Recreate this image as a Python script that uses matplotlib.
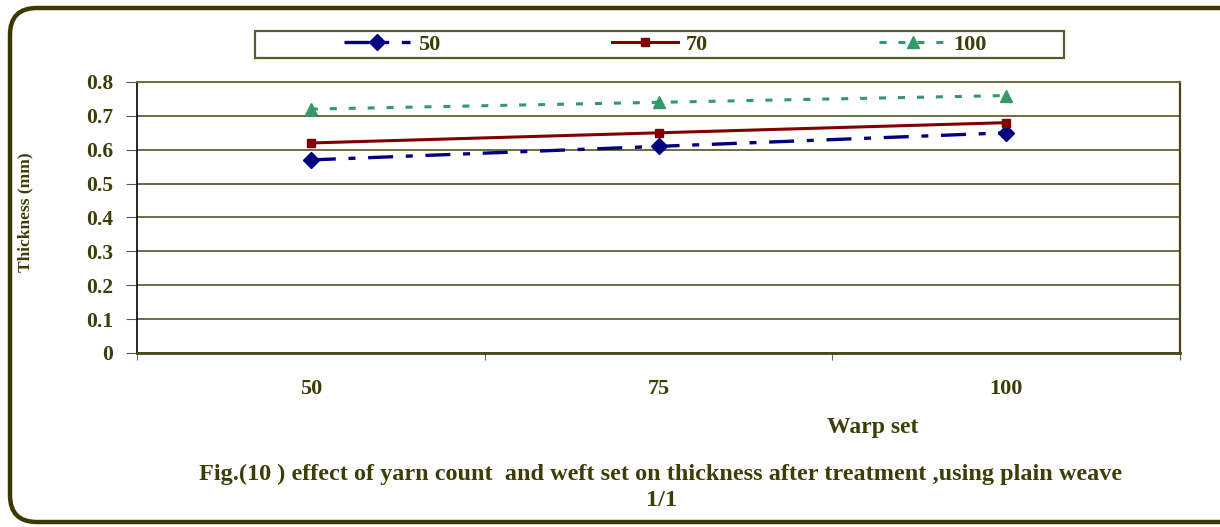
import matplotlib.pyplot as plt
from matplotlib.patches import FancyBboxPatch, Rectangle
from matplotlib.lines import Line2D

# warp set categories on the x axis
warp_set = ['50', '75', '100']

# thickness (mm) for each yarn count
thick_50 = [0.57, 0.61, 0.65]
thick_70 = [0.62, 0.65, 0.68]
thick_100 = [0.72, 0.74, 0.76]

series_labels = ['50', '70', '100']
y_ticks = [0, 0.1, 0.2, 0.3, 0.4, 0.5, 0.6, 0.7, 0.8]

olive = '#3d3d08'
grid_col = '#6b6b45'
serif = 'Liberation Serif'

W, H = 1220, 527
fig = plt.figure(figsize=(W / 100, H / 100), dpi=100)
fig.patch.set_facecolor('white')

# rounded outer frame
frame = FancyBboxPatch((10 / W, 1 - 522 / H), 1.05, 514 / H,
                       boxstyle='round,pad=0,rounding_size=0.022',
                       transform=fig.transFigure, fill=False,
                       edgecolor='#3a3a00', linewidth=3.2,
                       mutation_aspect=W / H)
fig.patches.append(frame)

ax = fig.add_axes([137 / W, 1 - 353 / H, 1043 / W, 271 / H])

s50 = dict(color='#000080', linewidth=2.4, marker='D', markersize=8,
           dashes=(7.5, 3.8, 2.1, 3.8))
s70 = dict(color='#800000', linewidth=2.2, marker='s', markersize=6.3)
s100 = dict(color='#339966', linewidth=2.2, marker='^', markersize=8,
            dashes=(2.3, 3.9))

xs = [i + 0.5 for i in range(len(warp_set))]
ax.plot(xs, thick_50, **s50)
ax.plot(xs, thick_70, **s70)
ax.plot(xs, thick_100, **s100)

ax.set_xlim(0, 3)
ax.set_ylim(0, 0.8)
ax.set_yticks(y_ticks)
ax.set_yticklabels([f'{v:g}' for v in y_ticks], fontfamily=serif,
                   fontweight='bold', fontsize=15.5, color=olive)
ax.yaxis.grid(True, color=grid_col, linewidth=1.4)
ax.set_axisbelow(True)

ax.set_xticks([0, 1, 2, 3])
ax.set_xticklabels([])
ax.set_xticks(xs, minor=True)
ax.set_xticklabels(warp_set, minor=True, fontfamily=serif,
                   fontweight='bold', fontsize=16, color=olive)
ax.tick_params(axis='x', which='minor', length=0, pad=19)
ax.tick_params(axis='x', which='major', length=5, direction='out',
               color=grid_col)
ax.tick_params(axis='y', length=8, direction='out', color='#555555', pad=9)

ax.spines['left'].set_color('black')
ax.spines['left'].set_linewidth(1.2)
ax.spines['bottom'].set_color('#47471a')
ax.spines['bottom'].set_linewidth(2.0)
ax.spines['right'].set_color('#47471a')
ax.spines['right'].set_linewidth(1.6)
ax.spines['top'].set_color(grid_col)
ax.spines['top'].set_linewidth(1.4)

fig.text(25 / W, 1 - 212 / H, 'Thickness (mm)', rotation=90,
         ha='center', va='center', fontfamily=serif, fontweight='bold',
         fontsize=12.5, color=olive)

fig.text(873 / W, 1 - 427 / H, 'Warp set', ha='center', va='center',
         fontfamily=serif, fontweight='bold', fontsize=17, color=olive)
fig.text(661 / W, 1 - 474 / H,
         'Fig.(10 ) effect of yarn count  and weft set on thickness after treatment ,using plain weave',
         ha='center', va='center', fontfamily=serif, fontweight='bold',
         fontsize=17.5, color=olive)
fig.text(661 / W, 1 - 500 / H, '1/1', ha='center', va='center',
         fontfamily=serif, fontweight='bold', fontsize=17.5, color=olive)

# legend strip above the plot
box = Rectangle((255 / W, 1 - 58 / H), 809 / W, 27 / H,
                transform=fig.transFigure, fill=False,
                edgecolor='#5a5a30', linewidth=1.6)
fig.patches.append(box)

handles = [Line2D([], [], **s50), Line2D([], [], **s70),
           Line2D([], [], **s100)]
leg = fig.legend(handles, series_labels, loc='center left',
                 bbox_to_anchor=(326 / W, 1 - 44.5 / H), ncol=3,
                 frameon=False, columnspacing=7.7, handlelength=3.0,
                 handletextpad=0.35, borderpad=0.3,
                 prop={'family': serif, 'weight': 'bold', 'size': 16})
for t in leg.get_texts():
    t.set_color(olive)

fig.savefig('out.png', dpi=100)
